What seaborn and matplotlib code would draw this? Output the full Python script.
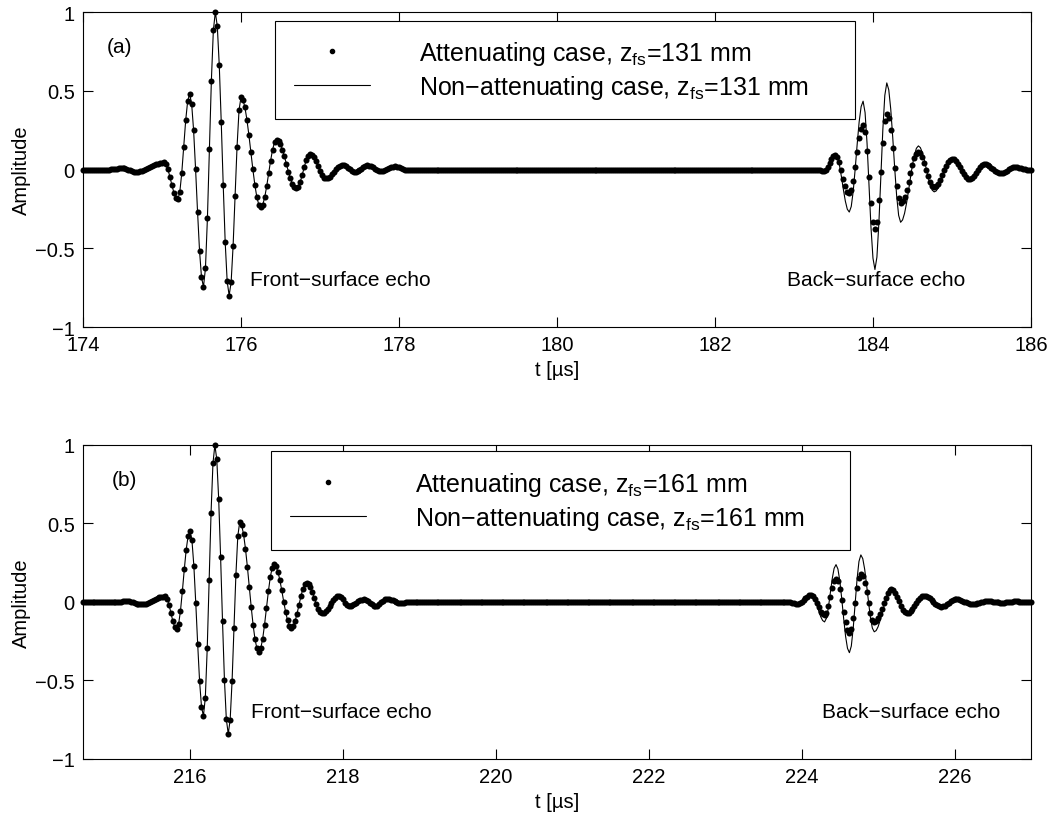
import numpy as np
import pandas as pd
import matplotlib
matplotlib.use("Agg")
import matplotlib.pyplot as plt
from matplotlib.lines import Line2D
from matplotlib.patches import Rectangle
import seaborn as sns

# Sampling interval of the recorded traces [µs]
DT = 0.025

# ---------------- panel (a): z_fs = 131 mm ----------------
A_FRONT_T0 = 174.0
A_FRONT = [
    0, 0, 0, 0, 0, 0, 0, 0, 0, 0, 0, 0, 0,
    0.000, 0.001, 0.002, 0.004, 0.006, 0.007, 0.008, 0.008,
    0.007, 0.004, -0.001, -0.006, -0.011, -0.014, -0.015,
    -0.014, -0.012, -0.008, -0.004, 0.002, 0.008, 0.015, 0.022, 0.028, 0.034, 0.038, 0.042, 0.044, 0.045,
    0.033, 0.001, -0.046, -0.099, -0.146, -0.178, -0.190,
    -0.145, -0.023, 0.145, 0.313, 0.435, 0.480,
    0.419, 0.250, 0.003, -0.268, -0.515, -0.684, -0.745,
    -0.628, -0.309, 0.128, 0.564, 0.883, 1.000,
    0.910, 0.662, 0.300, -0.100, -0.462, -0.710, -0.800,
    -0.716, -0.485, -0.170, 0.145, 0.376, 0.460,
    0.443, 0.394, 0.316, 0.219, 0.110, 0.002, -0.096, -0.174, -0.223, -0.240,
    -0.224, -0.177, -0.107, -0.025, 0.057, 0.127, 0.174, 0.190,
    0.183, 0.161, 0.126, 0.083, 0.035, -0.013, -0.056, -0.091, -0.113, -0.120,
    -0.109, -0.079, -0.034, 0.014, 0.059, 0.089, 0.100,
    0.094, 0.077, 0.051, 0.022, -0.008, -0.034, -0.051, -0.057,
    -0.054, -0.045, -0.031, -0.015, 0.002, 0.016, 0.025, 0.028,
    0.026, 0.020, 0.011, 0.002, -0.007, -0.013, -0.015,
    -0.012, -0.005, 0.006, 0.017, 0.024, 0.027,
    0.025, 0.020, 0.013, 0.004, -0.003, -0.008, -0.010,
    -0.009, -0.004, 0.002, 0.008, 0.014, 0.019, 0.020,
    0.019, 0.015, 0.010, 0.005, 0.000, -0.004, -0.005,
    -0.005, -0.004, -0.003, -0.002, -0.001, 0.000, 0.000,
]
A_BACK_T0 = 183.3
A_BACK_ATT = [
    0.000,
    -0.003, -0.009, -0.012,
    -0.005, 0.014, 0.039, 0.065, 0.083, 0.090,
    0.078, 0.045, -0.004, -0.058, -0.107, -0.140, -0.152,
    -0.130, -0.071, 0.016, 0.112, 0.199, 0.258, 0.280,
    0.236, 0.115, -0.050, -0.215, -0.336, -0.380,
    -0.331, -0.196, -0.013, 0.171, 0.306, 0.355,
    0.327, 0.249, 0.135, 0.010, -0.104, -0.182, -0.210,
    -0.200, -0.173, -0.130, -0.078, -0.022, 0.030, 0.073, 0.100, 0.110,
    0.102, 0.078, 0.042, 0.000, -0.042, -0.078, -0.102, -0.110,
    -0.105, -0.089, -0.066, -0.036, -0.006, 0.024, 0.047, 0.063, 0.068,
    0.064, 0.053, 0.036, 0.014, -0.008, -0.030, -0.047, -0.058, -0.062,
    -0.057, -0.044, -0.024, -0.002, 0.018, 0.031, 0.036,
    0.034, 0.029, 0.022, 0.012, 0.002, -0.008, -0.015, -0.020, -0.022,
    -0.020, -0.015, -0.008, 0.001, 0.008, 0.013, 0.015,
    0.014, 0.012, 0.009, 0.005, 0.002, -0.001, -0.003, -0.004,
]
A_BACK_REF = [
    0.000,
    -0.004, -0.011, -0.015,
    -0.007, 0.014, 0.043, 0.071, 0.092, 0.100,
    0.082, 0.030, -0.044, -0.126, -0.200, -0.252, -0.270,
    -0.235, -0.138, 0.004, 0.160, 0.302, 0.399, 0.434,
    0.362, 0.167, -0.101, -0.368, -0.563, -0.635,
    -0.556, -0.339, -0.043, 0.254, 0.471, 0.550,
    0.506, 0.384, 0.206, 0.009, -0.169, -0.291, -0.335,
    -0.320, -0.278, -0.214, -0.135, -0.050, 0.029, 0.093, 0.135, 0.150,
    0.139, 0.107, 0.060, 0.004, -0.052, -0.099, -0.131, -0.142,
    -0.136, -0.117, -0.088, -0.053, -0.015, 0.020, 0.049, 0.068, 0.074,
    0.070, 0.057, 0.039, 0.015, -0.009, -0.033, -0.051, -0.064, -0.068,
    -0.063, -0.048, -0.026, -0.002, 0.020, 0.035, 0.040,
    0.038, 0.032, 0.024, 0.013, 0.002, -0.009, -0.017, -0.023, -0.025,
    -0.023, -0.017, -0.009, 0.001, 0.009, 0.015, 0.017,
    0.016, 0.014, 0.010, 0.006, 0.002, -0.002, -0.004, -0.005,
]
A_XLIM = (174, 186)
A_XTICKS = [174, 176, 178, 180, 182, 184, 186]

# ---------------- panel (b): z_fs = 161 mm ----------------
B_FRONT_T0 = 214.6
B_FRONT = [
    0, 0, 0, 0, 0, 0, 0, 0, 0, 0, 0, 0, 0, 0, 0, 0, 0, 0, 0,
    0.001, 0.002, 0.004, 0.005, 0.006,
    0.005, 0.002, -0.003, -0.007, -0.012, -0.015, -0.016,
    -0.015, -0.013, -0.010, -0.005, 0.000, 0.006, 0.013, 0.019, 0.024, 0.029, 0.032, 0.034, 0.035,
    0.021, -0.017, -0.070, -0.122, -0.160, -0.174,
    -0.143, -0.056, 0.070, 0.208, 0.334, 0.421, 0.452,
    0.393, 0.231, -0.006, -0.268, -0.505, -0.667, -0.726,
    -0.610, -0.295, 0.137, 0.569, 0.884, 1.000,
    0.908, 0.654, 0.284, -0.124, -0.494, -0.748, -0.840,
    -0.750, -0.503, -0.165, 0.173, 0.420, 0.510,
    0.490, 0.432, 0.340, 0.225, 0.097, -0.031, -0.146, -0.238, -0.296, -0.316,
    -0.295, -0.235, -0.144, -0.038, 0.068, 0.159, 0.219, 0.240,
    0.228, 0.193, 0.139, 0.074, 0.003, -0.062, -0.116, -0.151, -0.163,
    -0.152, -0.121, -0.074, -0.020, 0.035, 0.082, 0.113, 0.124,
    0.117, 0.095, 0.063, 0.026, -0.011, -0.043, -0.065, -0.072,
    -0.069, -0.059, -0.045, -0.027, -0.007, 0.011, 0.025, 0.035, 0.038,
    0.032, 0.016, -0.004, -0.020, -0.026,
    -0.024, -0.020, -0.013, -0.005, 0.004, 0.011, 0.015, 0.017,
    0.014, 0.006, -0.005, -0.015, -0.023, -0.026,
    -0.023, -0.015, -0.003, 0.009, 0.017, 0.020,
    0.019, 0.015, 0.010, 0.005, 0.000, -0.004, -0.005,
    -0.005, -0.004, -0.003, -0.001, 0.000, 0.000,
]
B_BACK_T0 = 223.5
B_BACK_ATT = [
    0, 0, 0, 0, 0, 0, 0, 0, 0, 0, 0, 0, 0,
    -0.001, -0.003, -0.006, -0.008, -0.010, -0.011,
    -0.008, 0.000, 0.011, 0.023, 0.034, 0.042, 0.045,
    0.039, 0.021, -0.006, -0.034, -0.061, -0.079, -0.085,
    -0.069, -0.027, 0.032, 0.091, 0.133, 0.149,
    0.132, 0.084, 0.015, -0.061, -0.130, -0.178, -0.195,
    -0.170, -0.101, -0.008, 0.086, 0.155, 0.180,
    0.165, 0.122, 0.061, -0.008, -0.069, -0.112, -0.127,
    -0.121, -0.103, -0.075, -0.042, -0.005, 0.028, 0.056, 0.074, 0.080,
    0.074, 0.058, 0.034, 0.005, -0.024, -0.048, -0.064, -0.070,
    -0.067, -0.057, -0.043, -0.025, -0.005, 0.013, 0.027, 0.037, 0.040,
    0.038, 0.032, 0.023, 0.011, -0.001, -0.013, -0.022, -0.028, -0.030,
    -0.028, -0.023, -0.015, -0.005, 0.005, 0.013, 0.018, 0.020,
    0.019, 0.015, 0.009, 0.003, -0.003, -0.009, -0.013, -0.014,
    -0.013, -0.011, -0.008, -0.004, 0.000, 0.003, 0.005, 0.006,
    0.006, 0.005, 0.003, 0.001, -0.001, -0.003, -0.004, -0.004,
    -0.004, -0.002, -0.001, 0.001, 0.002, 0.004, 0.004,
    0.004, 0.003, 0.003, 0.002, 0.001, 0.001, 0.000, 0.000,
]
B_BACK_REF = [
    0, 0, 0, 0, 0, 0, 0, 0, 0, 0, 0, 0, 0,
    -0.001, -0.003, -0.006, -0.008, -0.010, -0.011,
    -0.008, 0.000, 0.012, 0.024, 0.036, 0.044, 0.047,
    0.038, 0.014, -0.021, -0.059, -0.094, -0.118, -0.127,
    -0.103, -0.036, 0.056, 0.147, 0.214, 0.238,
    0.210, 0.133, 0.020, -0.105, -0.218, -0.295, -0.323,
    -0.281, -0.167, -0.012, 0.144, 0.258, 0.300,
    0.276, 0.208, 0.109, 0.001, -0.098, -0.166, -0.190,
    -0.182, -0.158, -0.121, -0.076, -0.029, 0.016, 0.053, 0.077, 0.085,
    0.079, 0.062, 0.036, 0.006, -0.025, -0.051, -0.068, -0.074,
    -0.071, -0.060, -0.045, -0.026, -0.006, 0.013, 0.028, 0.039, 0.042,
    0.040, 0.033, 0.024, 0.011, -0.001, -0.014, -0.023, -0.030, -0.032,
    -0.030, -0.024, -0.016, -0.006, 0.005, 0.013, 0.019, 0.021,
    0.020, 0.016, 0.010, 0.003, -0.004, -0.010, -0.014, -0.015,
    -0.014, -0.012, -0.009, -0.005, 0.000, 0.003, 0.005, 0.006,
    0.006, 0.005, 0.003, 0.001, -0.001, -0.003, -0.004, -0.004,
    -0.004, -0.002, -0.001, 0.001, 0.002, 0.004, 0.004,
    0.004, 0.003, 0.003, 0.002, 0.001, 0.001, 0.000, 0.000,
]
B_XLIM = (214.6, 227.0)
B_XTICKS = [216, 218, 220, 222, 224, 226]

Y_TICKS = [-1, -0.5, 0, 0.5, 1]
Y_TICKLABELS = ["\u22121", "\u22120.5", "0", "0.5", "1"]

PANEL_TAGS = ["(a)", "(b)"]
Z_FS = [131, 161]
FRONT_LABEL = "Front\u2212surface echo"
BACK_LABEL = "Back\u2212surface echo"


def full_trace(t0_front, front, t0_back, back):
    """Front echo, silent stretch, back echo on one uniform time base."""
    gap = int(round((t0_back - t0_front) / DT)) - len(front)
    amp = np.concatenate([np.asarray(front, float), np.zeros(gap), np.asarray(back, float)])
    t = t0_front + DT * np.arange(len(amp))
    return pd.DataFrame({"t": t, "amp": amp})


sns.set_style("ticks")
plt.rcParams.update({
    "font.family": ["Liberation Sans", "DejaVu Sans"],
    "mathtext.fontset": "custom",
    "mathtext.rm": "Liberation Sans",
    "mathtext.it": "Liberation Sans:italic",
    "axes.edgecolor": "black",
    "axes.linewidth": 0.8,
    "xtick.color": "black",
    "ytick.color": "black",
    "xtick.direction": "in",
    "ytick.direction": "in",
    "xtick.major.size": 7,
    "ytick.major.size": 7,
    "xtick.major.width": 0.8,
    "ytick.major.width": 0.8,
    "text.color": "black",
    "axes.labelcolor": "black",
})

fig = plt.figure(figsize=(10.52, 8.2), dpi=100)

panels = [
    dict(front_t0=A_FRONT_T0, front=A_FRONT, back_t0=A_BACK_T0, att=A_BACK_ATT, ref=A_BACK_REF,
         xlim=A_XLIM, xticks=A_XTICKS, rect=[0.0789, 0.600, 0.9011, 0.3841],
         tag_xy=(0.038, 0.89), front_xy=(176.11, -0.70), back_xy=(182.91, -0.70),
         leg_anchor=(0.2226, 0.816), box=(0.2025, 0.6603, 0.6118, 0.3121)),
    dict(front_t0=B_FRONT_T0, front=B_FRONT, back_t0=B_BACK_T0, att=B_BACK_ATT, ref=B_BACK_REF,
         xlim=B_XLIM, xticks=B_XTICKS, rect=[0.0789, 0.0732, 0.9011, 0.3829],
         tag_xy=(0.044, 0.89), front_xy=(216.80, -0.70), back_xy=(224.27, -0.70),
         leg_anchor=(0.2184, 0.8217), box=(0.1983, 0.6666, 0.6108, 0.3134)),
]

for i, p in enumerate(panels):
    ax = fig.add_axes(p["rect"])
    df_att = full_trace(p["front_t0"], p["front"], p["back_t0"], p["att"])
    df_ref = full_trace(p["front_t0"], p["front"], p["back_t0"], p["ref"])

    sns.lineplot(data=df_ref, x="t", y="amp", color="black", linewidth=0.8,
                 estimator=None, sort=False, ax=ax, zorder=2)
    sns.scatterplot(data=df_att, x="t", y="amp", color="black", s=19,
                    linewidth=0, ax=ax, zorder=3, clip_on=False)

    ax.set_xlim(*p["xlim"])
    ax.set_ylim(-1, 1)
    ax.set_xticks(p["xticks"])
    ax.set_xticklabels([str(v) for v in p["xticks"]])
    ax.set_yticks(Y_TICKS)
    ax.set_yticklabels(Y_TICKLABELS)
    ax.tick_params(axis="both", which="both", top=True, right=True, labelsize=14.5, pad=6)
    for side in ["top", "right", "left", "bottom"]:
        ax.spines[side].set_visible(True)
        ax.spines[side].set_color("black")
    ax.set_xlabel("t [\u00b5s]", fontsize=14.5, labelpad=4)
    ax.set_ylabel("Amplitude", fontsize=14.5, labelpad=3)

    ax.text(p["tag_xy"][0], p["tag_xy"][1], PANEL_TAGS[i], transform=ax.transAxes,
            fontsize=15, ha="center", va="center")
    ax.text(p["front_xy"][0], p["front_xy"][1], FRONT_LABEL, fontsize=15, ha="left", va="center")
    ax.text(p["back_xy"][0], p["back_xy"][1], BACK_LABEL, fontsize=15, ha="left", va="center")

    # legend frame
    bx, by, bw, bh = p["box"]
    ax.add_patch(Rectangle((bx, by), bw, bh, transform=ax.transAxes, facecolor="white",
                           edgecolor="black", linewidth=0.8, zorder=4))
    handles = [
        Line2D([], [], marker="o", linestyle="", markersize=3.0, color="black"),
        Line2D([], [], color="black", linewidth=0.8),
    ]
    labels = [
        "Attenuating case, z$_{\\mathrm{fs}}$=%d mm" % Z_FS[i],
        "Non\u2212attenuating case, z$_{\\mathrm{fs}}$=%d mm" % Z_FS[i],
    ]
    leg = ax.legend(handles, labels, loc="center left", bbox_to_anchor=p["leg_anchor"],
                    frameon=False, fontsize=18, handlelength=3.05, handletextpad=1.95,
                    labelspacing=0.25, borderpad=0, borderaxespad=0, numpoints=1)
    leg.set_zorder(5)

fig.savefig("out.png", dpi=100)
